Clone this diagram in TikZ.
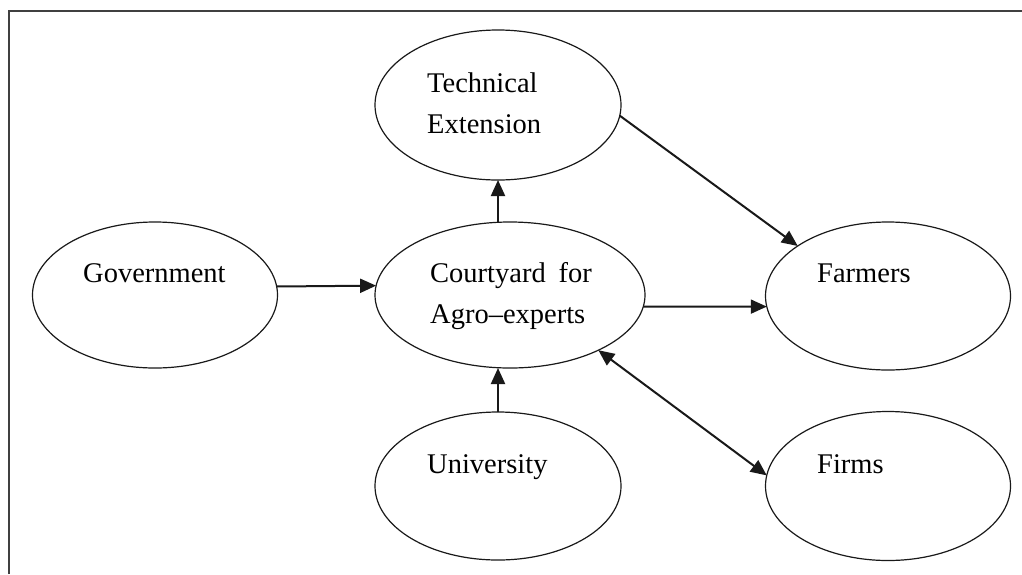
\documentclass[tikz,border=0pt]{standalone}
\usepackage{fontspec}
\setmainfont{Liberation Serif}
\usetikzlibrary{shapes.geometric,arrows.meta}

\tikzset{
  blob/.style={ellipse, draw=black!90, line width=1.2pt, inner sep=0pt, outer sep=0pt},
  lbl/.style={anchor=base west, inner sep=0pt, font=\fontsize{28.5}{41}\selectfont},
  arr/.style={draw=black!90, line width=2pt, -{Triangle[length=16pt,width=14pt]}},
  biarr/.style={draw=black!90, line width=2pt, {Triangle[length=16pt,width=14pt]}-{Triangle[length=16pt,width=14pt]}},
}

\begin{document}
\begin{tikzpicture}[x=1pt,y=-1pt]
  \useasboundingbox (0,0) rectangle (1022,574);
  \fill[white] (0,0) rectangle (1022,574);

  % outer frame (open at the right and bottom page edges)
  \draw[line width=2.2pt, black!75] (9,574) -- (9,11) -- (1022,11);

  % ellipses
  \node[blob, minimum width=246pt, minimum height=150pt] (tech)  at (498,105) {};
  \node[blob, minimum width=245pt, minimum height=146pt] (gov)   at (155,295) {};
  \node[blob, minimum width=270pt, minimum height=146pt] (court) at (510,295) {};
  \node[blob, minimum width=245pt, minimum height=148pt] (farm)  at (888,296) {};
  \node[blob, minimum width=246pt, minimum height=148pt] (univ)  at (498,486) {};
  \node[blob, minimum width=245pt, minimum height=149pt] (firms) at (888,486) {};

  % labels
  \node[lbl] (techA)  at (427,92)  {Technical};
  \node[lbl] (techB)  at (427,133) {Extension};
  \node[lbl] (govT)   at (83,282)  {Government};
  \node[lbl] (courtA) at (430,282) {Courtyard\hspace{0.45em}for};
  \node[lbl] (courtB) at (430,323) {Agro–experts};
  \node[lbl] (farmT)  at (817,282) {Farmers};
  \node[lbl] (univT)  at (427,473) {University};
  \node[lbl] (firmsT) at (817,473) {Firms};

  % connectors
  \draw[arr] (gov.4) -- (court.176.6);
  \draw[arr] (court.-5) -- (farm.185);
  \draw[arr] (tech.south |- court.north) -- (tech.south);
  \draw[arr] (univ.north) -- (univ.north |- court.south);
  \draw[arr] (tech.-5) -- (farm.151);
  \draw[biarr] (court.-32) -- (firms.175);
\end{tikzpicture}
\end{document}
